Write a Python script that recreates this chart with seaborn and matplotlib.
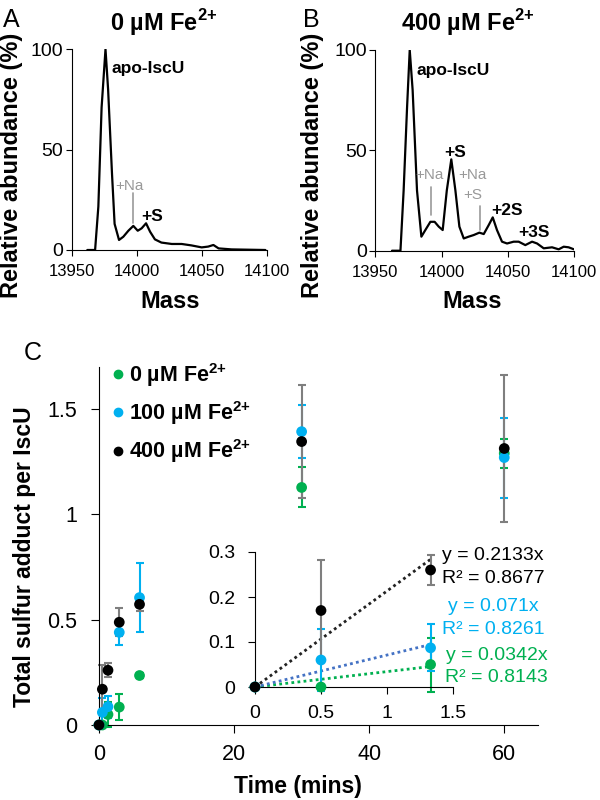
import matplotlib
matplotlib.use("Agg")
import numpy as np
import pandas as pd
import seaborn as sns
import matplotlib.pyplot as plt
from matplotlib.lines import Line2D

# mass spectra (mass in Da, relative abundance in %)
mass_a = [13962, 13968, 13970.5, 13973, 13976, 13978, 13981, 13983, 13986.4, 13989.7,
          13993.6, 13997.4, 14000.8, 14003.8, 14007.2, 14010.3, 14014, 14019, 14027,
          14034.6, 14042, 14050, 14055, 14059, 14063, 14073, 14099]
abund_a = [0, 0, 21.6, 71, 100, 80, 38, 13, 5, 6.6, 9.6, 12, 9.6, 10.8, 13.3, 9.1,
           5.3, 3.7, 3, 3, 2.3, 1.3, 1.7, 2.5, 0.8, 0.3, 0]

mass_b = [13962.6, 13969, 13971.4, 13974, 13976, 13978.2, 13981.5, 13984.8, 13987.8,
          13991.6, 13994.8, 13997.9, 14000.9, 14004, 14007.4, 14010.5, 14013.5, 14016.8,
          14020.5, 14024.3, 14028.6, 14031.9, 14035.6, 14038.7, 14041.9, 14045.7, 14049.5,
          14054.5, 14058.3, 14063.3, 14068.4, 14072.2, 14077.2, 14083.5, 14088.5, 14092.3,
          14096, 14100]
abund_b = [0, 0, 30, 71.5, 100, 80, 30, 7, 10.3, 14.4, 14.4, 12, 10.3, 30, 45.5, 30, 12,
           6.1, 7, 7.8, 9, 8.3, 12.7, 16.6, 10.3, 4.5, 3.6, 4.5, 4.5, 2.8, 4.5, 3.6, 1.2,
           1.7, 0.7, 2, 1.7, 0.7]

# panel C: total sulfur adduct per IscU vs time (mins)
times = [0, 0.5, 1.33, 3, 6, 30, 60]
fe0 = [0, 0, 0.05, 0.085, 0.235, 1.128, 1.29]
fe0_err = [0, 0, 0.06, 0.06, 0.01, 0.095, 0.07]
fe100 = [0, 0.06, 0.087, 0.44, 0.605, 1.393, 1.27]
fe100_err = [0, 0.069, 0.052, 0.06, 0.165, 0.125, 0.19]
fe400 = [0, 0.17, 0.26, 0.488, 0.573, 1.346, 1.313]
fe400_err = [0, 0.113, 0.033, 0.067, 0.03, 0.27, 0.35]

series = ["0 µM", "100 µM", "400 µM"]
slopes = [0.0342, 0.071, 0.2133]
r2 = [0.8143, 0.8261, 0.8677]

green, blue, gray = "#00B050", "#00B0F0", "#7F7F7F"
dot_colors = {"0 µM": green, "100 µM": blue, "400 µM": "black"}
bar_colors = {"0 µM": green, "100 µM": blue, "400 µM": gray}
trend_colors = {"0 µM": green, "100 µM": "#4472C4", "400 µM": "#222222"}

df = pd.DataFrame({
    "time": times * 3,
    "value": fe0 + fe100 + fe400,
    "err": fe0_err + fe100_err + fe400_err,
    "series": [s for s in series for _ in times],
})

sns.set_style("ticks", {"axes.edgecolor": "black", "xtick.color": "black",
                        "ytick.color": "black", "text.color": "black",
                        "axes.labelcolor": "black"})
plt.rcParams["font.family"] = ["Liberation Sans", "DejaVu Sans"]
plt.rcParams["mathtext.fontset"] = "custom"
plt.rcParams["mathtext.rm"] = "Liberation Sans"
plt.rcParams["mathtext.bf"] = "Liberation Sans:bold"

fig = plt.figure(figsize=(6, 8), dpi=100)
FE = r"Fe$^{\mathbf{2}{\mathbf{+}}}$"

# ---- spectra A and B
axA = fig.add_axes([0.1195, 0.6875, 0.325, 0.251])
axB = fig.add_axes([0.6255, 0.6866, 0.331, 0.251])
for ax, m, a in [(axA, mass_a, abund_a), (axB, mass_b, abund_b)]:
    sns.lineplot(x=m, y=a, ax=ax, color="black", lw=1.6, sort=False, estimator=None)
    ax.set_xlim(13950, 14100)
    ax.set_ylim(0, 100)
    ax.set_xticks([13950, 14000, 14050, 14100])
    ax.set_yticks([0, 50, 100])
    ax.tick_params(axis="x", labelsize=12, length=4, pad=6)
    ax.tick_params(axis="y", labelsize=14, length=4, pad=2)
    sns.despine(ax=ax)

fig.text(0.005, 0.99, "A", fontsize=18, va="top")
fig.text(0.505, 0.99, "B", fontsize=18, va="top")
fig.text(164 / 600, 1 - 23 / 800, "0 µM " + FE, fontsize=17, weight="bold", ha="center", va="center")
fig.text(468 / 600, 1 - 23 / 800, "400 µM " + FE, fontsize=17, weight="bold", ha="center", va="center")
for x in [12, 312]:
    fig.text(x / 600, 1 - 165 / 800, "Relative abundance (%)", fontsize=17, weight="bold",
             rotation=90, ha="center", va="center")
for x in [170, 472]:
    fig.text(x / 600, 1 - 302 / 800, "Mass", fontsize=17, weight="bold", ha="center", va="center")

bold = dict(fontsize=12.5, weight="bold", va="center")
grey = dict(fontsize=11, color="#999999", va="center")
axA.text(13980.8, 90.5, "apo-IscU", **bold)
axA.text(13983.3, 31.9, "+Na", **grey)
axA.plot([13996.9, 13996.9], [28.2, 13.6], color="#999999", lw=1.2)
axA.text(14003.3, 16.9, "+S", **bold)

axB.text(13981, 89.7, "apo-IscU", **bold)
axB.text(13980.2, 37.6, "+Na", **grey)
axB.plot([13992.3, 13992.3], [31.8, 17.7], color="#999999", lw=1.2)
axB.text(14002.4, 48.7, "+S", **bold)
axB.text(14012.5, 37.6, "+Na", **grey)
axB.text(14016.8, 27.6, "+S", **grey)
axB.plot([14028.8, 14028.8], [22.2, 10.3], color="#999999", lw=1.2)
axB.text(14037.7, 20.2, "+2S", **bold)
axB.text(14058.3, 8.9, "+3S", **bold)

# ---- panel C
axC = fig.add_axes([0.165, 0.09375, 0.7317, 0.4475])
axI = fig.add_axes([0.425, 0.14125, 0.33, 0.16875])


def draw_points(ax, data):
    for s in series:
        d = data[data["series"] == s]
        ax.errorbar(d["time"], d["value"], yerr=d["err"], fmt="none",
                    ecolor=bar_colors[s], elinewidth=1.5, capsize=3, capthick=1.5,
                    zorder=2, clip_on=False)
    sns.scatterplot(data=data, x="time", y="value", hue="series", palette=dot_colors,
                    hue_order=series, s=60, linewidth=0, ax=ax, legend=False,
                    zorder=3, clip_on=False)


draw_points(axC, df)
axC.set_xlim(0, 65)
axC.set_ylim(0, 1.7)
axC.set_xticks([0, 20, 40, 60])
axC.set_yticks([0, 0.5, 1, 1.5])
axC.set_yticklabels(["0", "0.5", "1", "1.5"])
axC.tick_params(labelsize=15.5, length=6)
axC.tick_params(axis="y", pad=10)
axC.tick_params(axis="x", pad=8)
axC.set_xlabel("")
axC.set_ylabel("")
sns.despine(ax=axC)
fig.text(25 / 600, 1 - 557 / 800, "Total sulfur adduct per IscU", fontsize=16.5,
         weight="bold", rotation=90, ha="center", va="center")
fig.text(298 / 600, 1 - 787 / 800, "Time (mins)", fontsize=16.5, weight="bold",
         ha="center", va="center")
fig.text(0.04, 1 - 353 / 800, "C", fontsize=18, va="center")

handles = [Line2D([], [], marker="o", ls="", color=dot_colors[s], markersize=6) for s in series]
axC.legend(handles, [s + " " + FE for s in series], loc="upper left",
           bbox_to_anchor=(102 / 600, 1 - 350 / 800), bbox_transform=fig.transFigure,
           frameon=False, handlelength=0.5, handletextpad=0.25, labelspacing=0.48,
           borderpad=0, prop={"size": 15.5, "weight": "bold"})

# inset: first 80 s with linear fits through the origin
early = df[df["time"] <= 1.5]
t_end = max(early["time"])
for s, k in zip(series, slopes):
    axI.plot([0, t_end], [0, k * t_end], ls=(0, (1, 1.2)), lw=2, color=trend_colors[s], zorder=1)
draw_points(axI, early)
axI.set_xlim(0, 1.5)
axI.set_ylim(0, 0.3)
axI.set_xticks([0, 0.5, 1, 1.5])
axI.set_xticklabels(["0", "0.5", "1", "1.5"])
axI.set_yticks([0, 0.1, 0.2, 0.3])
axI.set_yticklabels(["0", "0.1", "0.2", "0.3"])
axI.tick_params(labelsize=14, length=5)
axI.tick_params(axis="y", pad=9)
axI.tick_params(axis="x", pad=8)
axI.set_xlabel("")
axI.set_ylabel("")
axI.patch.set_alpha(0)
sns.despine(ax=axI)

eq_pos = {"400 µM": [(1.417, 0.293), (1.417, 0.242)],
          "100 µM": [(1.462, 0.178), (1.417, 0.127)],
          "0 µM": [(1.447, 0.071), (1.44, 0.02)]}
eq_colors = {"0 µM": green, "100 µM": blue, "400 µM": "black"}
for s, k, r in zip(series, slopes, r2):
    (x1, y1), (x2, y2) = eq_pos[s]
    axI.text(x1, y1, "y = %gx" % k, color=eq_colors[s], fontsize=14, va="center", clip_on=False)
    axI.text(x2, y2, "R² = %.4f" % r, color=eq_colors[s], fontsize=14, va="center", clip_on=False)

fig.savefig("out.png", dpi=100)
